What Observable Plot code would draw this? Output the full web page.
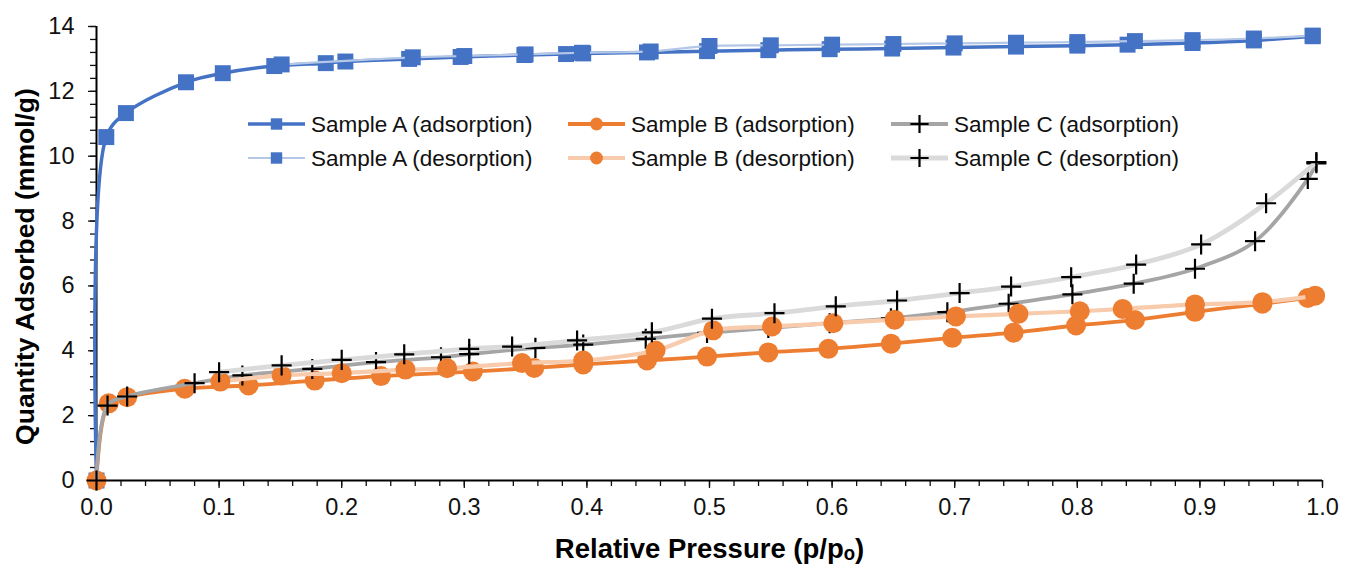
<!DOCTYPE html>
<html><head><meta charset="utf-8">
<script src="https://cdn.jsdelivr.net/npm/d3@7"></script>
<script src="https://cdn.jsdelivr.net/npm/@observablehq/plot@0.6"></script>
<style>
body{margin:0;background:#fff;}
#chart{width:1352px;height:566px;}
</style></head><body><div id="chart"></div>
<script>
// ---- data ----
const aAdsX = [0, 0.008, 0.024, 0.073, 0.103, 0.145, 0.187, 0.203, 0.255, 0.297, 0.349, 0.383, 0.397, 0.449, 0.498, 0.548, 0.598, 0.649, 0.699, 0.75, 0.80, 0.841, 0.894, 0.944, 0.992];
const aAdsY = [0, 10.59, 11.33, 12.28, 12.56, 12.78, 12.87, 12.92, 13.0, 13.06, 13.12, 13.15, 13.17, 13.2, 13.24, 13.27, 13.3, 13.32, 13.35, 13.38, 13.41, 13.44, 13.49, 13.57, 13.70];
const aDesX = [0.992, 0.944, 0.894, 0.847, 0.80, 0.75, 0.70, 0.65, 0.60, 0.55, 0.50, 0.452, 0.396, 0.35, 0.30, 0.258, 0.151];
const aDesY = [13.72, 13.63, 13.58, 13.55, 13.52, 13.5, 13.48, 13.46, 13.44, 13.42, 13.40, 13.23, 13.19, 13.14, 13.09, 13.05, 12.83];

const bAdsX = [0, 0.010, 0.025, 0.072, 0.124, 0.178, 0.232, 0.307, 0.357, 0.397, 0.449, 0.498, 0.548, 0.597, 0.648, 0.698, 0.748, 0.799, 0.847, 0.896, 0.951, 0.988];
const bAdsY = [0, 2.38, 2.57, 2.83, 2.93, 3.08, 3.22, 3.36, 3.47, 3.58, 3.70, 3.82, 3.95, 4.06, 4.22, 4.40, 4.56, 4.78, 4.95, 5.20, 5.45, 5.63];
const bDesX = [0.994, 0.951, 0.896, 0.837, 0.802, 0.752, 0.701, 0.651, 0.601, 0.551, 0.503, 0.456, 0.397, 0.347, 0.286, 0.252, 0.200, 0.151, 0.101];
const bDesY = [5.70, 5.50, 5.43, 5.29, 5.22, 5.14, 5.06, 4.96, 4.85, 4.75, 4.63, 4.01, 3.70, 3.62, 3.46, 3.42, 3.31, 3.24, 3.05];

const cAdsX = [0, 0.009, 0.025, 0.080, 0.119, 0.176, 0.228, 0.281, 0.304, 0.358, 0.397, 0.448, 0.498, 0.548, 0.598, 0.648, 0.694, 0.744, 0.796, 0.846, 0.896, 0.945, 0.988, 0.995];
const cAdsY = [0, 2.31, 2.59, 3.00, 3.24, 3.44, 3.65, 3.80, 3.90, 4.09, 4.19, 4.37, 4.55, 4.70, 4.85, 5.00, 5.19, 5.45, 5.74, 6.07, 6.53, 7.38, 9.30, 9.78];
const cDesX = [0.995, 0.954, 0.901, 0.848, 0.795, 0.746, 0.704, 0.653, 0.603, 0.553, 0.502, 0.453, 0.392, 0.339, 0.304, 0.251, 0.200, 0.151, 0.100];
const cDesY = [9.82, 8.55, 7.28, 6.66, 6.27, 5.98, 5.78, 5.55, 5.37, 5.16, 4.99, 4.57, 4.32, 4.13, 4.06, 3.89, 3.72, 3.55, 3.34];

const seriesNames = ["Sample A (adsorption)", "Sample B (adsorption)", "Sample C (adsorption)",
                     "Sample A (desorption)", "Sample B (desorption)", "Sample C (desorption)"];
const xTicks = [0, 0.1, 0.2, 0.3, 0.4, 0.5, 0.6, 0.7, 0.8, 0.9, 1.0];
const yTicks = [0, 2, 4, 6, 8, 10, 12, 14];
const xTitle = "Relative Pressure (p/p\u2092)";
const yTitle = "Quantity Adsorbed (mmol/g)";

// ---- styles ----
const styles = {
  "Sample A (adsorption)": {line: "#4472C4", w: 3.5, sym: "square", color: "#4472C4", r: 9},
  "Sample A (desorption)": {line: "#B4C7E7", w: 2.2, sym: "square", color: "#4472C4", r: 9},
  "Sample B (adsorption)": {line: "#ED7D31", w: 3.8, sym: "circle", color: "#ED7D31", r: 10},
  "Sample B (desorption)": {line: "#F8CBAD", w: 4.2, sym: "circle", color: "#ED7D31", r: 10},
  "Sample C (adsorption)": {line: "#A5A5A5", w: 3.8, sym: "plus", color: "#000", r: 6.5},
  "Sample C (desorption)": {line: "#DADADA", w: 4.8, sym: "plus", color: "#000", r: 6.5}
};
const seriesData = {
  "Sample A (adsorption)": [aAdsX, aAdsY],
  "Sample A (desorption)": [aDesX, aDesY],
  "Sample B (adsorption)": [bAdsX, bAdsY],
  "Sample B (desorption)": [bDesX, bDesY],
  "Sample C (adsorption)": [cAdsX, cAdsY],
  "Sample C (desorption)": [cDesX, cDesY]
};

const xMinor = d3.range(0, 51).map(i => i / 50);
const yMinor = d3.range(0, 36).map(i => i * 0.4);

const marks = [];
for (const name of seriesNames) {
  const [xs, ys] = seriesData[name];
  const data = xs.map((x, i) => ({x, y: ys[i]}));
  const s = styles[name];
  marks.push(Plot.line(data, {x: "x", y: "y", stroke: s.line, strokeWidth: s.w, curve: "catmull-rom"}));
  if (s.sym === "plus") {
    marks.push(Plot.dot(data, {x: "x", y: "y", symbol: "plus", r: s.r, stroke: s.color, strokeWidth: 2.2, fill: "none"}));
  } else {
    marks.push(Plot.dot(data, {x: "x", y: "y", symbol: s.sym, r: s.r, fill: s.color, stroke: "none"}));
  }
}

const chart = Plot.plot({
  width: 1352, height: 566,
  marginLeft: 96, marginRight: 30, marginTop: 26, marginBottom: 86,
  style: {fontFamily: '"Liberation Sans", Arial, sans-serif', fontSize: "22px", color: "#111", background: "#fff"},
  x: {domain: [0, 1], label: null},
  y: {domain: [0, 14], label: null},
  marks: [
    Plot.axisY(yMinor, {tickSize: 6, tickFormat: () => "", strokeWidth: 1.3, label: null}),
    Plot.axisY(yTicks, {tickSize: 8, tickPadding: 14, strokeWidth: 1.3, label: null}),
    Plot.axisX(xMinor, {tickSize: 6, tickFormat: () => "", strokeWidth: 1.3, label: null}),
    Plot.axisX(xTicks, {tickSize: 8, tickPadding: 10, strokeWidth: 1.3, tickFormat: d3.format(".1f"), label: null}),
    Plot.ruleX([0], {strokeWidth: 2, stroke: "#000"}),
    Plot.ruleY([0], {strokeWidth: 2, stroke: "#000"}),
    ...marks,
    Plot.text([yTitle], {frameAnchor: "left", rotate: -90, dx: -71, dy: 13, textAnchor: "middle", lineAnchor: "middle", fontWeight: "bold", fontSize: 26.5, fill: "#000"}),
    Plot.text([xTitle], {frameAnchor: "bottom", dy: 69, textAnchor: "middle", lineAnchor: "middle", fontWeight: "bold", fontSize: 27.5, fill: "#000"})
  ]
});
document.getElementById("chart").append(chart);

// enlarge axis tick labels (force on the text nodes themselves)
d3.select(chart).selectAll("g[aria-label$='tick label'] text, g[aria-label$='tick label']")
  .style("font-size", "23.5px");

// ---- legend (inside plot area, 3 columns x 2 rows) ----
const svg = d3.select(chart);
const legendCols = [248, 568, 891];
const legendRows = [124, 158];
const lg = svg.append("g")
  .attr("font-family", '"Liberation Sans", Arial, sans-serif')
  .attr("font-size", 22.5)
  .attr("text-anchor", "start");
seriesNames.forEach((name, i) => {
  const col = i % 3, row = Math.floor(i / 3);
  const x0 = legendCols[col], y0 = legendRows[row];
  const s = styles[name];
  const g = lg.append("g").attr("transform", `translate(${x0},${y0})`);
  g.append("line").attr("x1", 0).attr("x2", 57).attr("y1", 0).attr("y2", 0)
    .attr("stroke", s.line).attr("stroke-width", s.w);
  const symType = s.sym === "square" ? d3.symbolSquare : s.sym === "circle" ? d3.symbolCircle : d3.symbolPlus;
  const size = s.sym === "square" ? 130 : s.sym === "circle" ? 130 : 110;
  const p = g.append("path").attr("d", d3.symbol(symType, size)()).attr("transform", "translate(28.5,0)");
  if (s.sym === "plus") p.attr("stroke", "#000").attr("stroke-width", 2.2).attr("fill", "none");
  else p.attr("fill", s.color);
  g.append("text").attr("x", 63).attr("y", 0).attr("dy", "0.35em")
    .attr("text-anchor", "start").attr("fill", "#111").text(name);
});
</script>
</body></html>
